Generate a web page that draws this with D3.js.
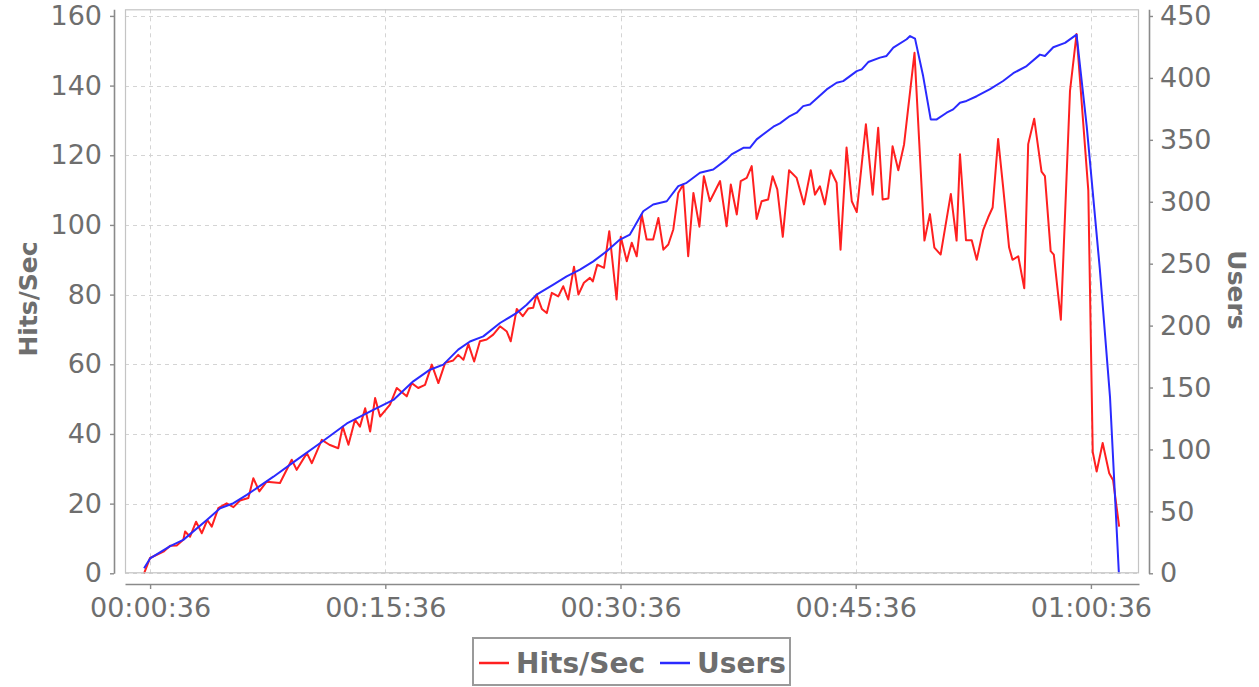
<!DOCTYPE html>
<html>
<head>
<meta charset="utf-8">
<script src="https://cdn.jsdelivr.net/npm/d3@7/dist/d3.min.js"></script>
<style>
  html, body { margin: 0; padding: 0; background: #fff; }
  svg { display: block; }
  text { font-family: "DejaVu Sans", sans-serif; }
</style>
</head>
<body>
<svg id="chart" width="1259" height="687"></svg>
<script>
// ---- data (elapsed seconds from test start) ----
const hitsTime = [13,36,87,113,138,163,170,189,212,234,255,272,297,329,355,380,412,431,454,482,533,578,597,636,655,693,722,756,773,795,820,839,859,878,897,916,954,980,1018,1037,1062,1088,1114,1139,1165,1196,1215,1235,1254,1276,1298,1324,1349,1375,1401,1416,1439,1462,1483,1502,1515,1535,1554,1573,1598,1617,1636,1658,1675,1696,1719,1730,1747,1773,1793,1821,1837,1860,1879,1898,1917,1936,1961,1981,2000,2019,2038,2057,2076,2095,2115,2138,2155,2178,2217,2242,2258,2281,2296,2319,2338,2357,2376,2401,2418,2436,2457,2481,2510,2538,2564,2580,2599,2618,2640,2663,2678,2701,2721,2740,2775,2801,2822,2839,2861,2877,2899,2921,2961,2999,3020,3037,3061,3100,3122,3135,3158,3180,3199,3224,3243,3260,3281,3300,3323,3336,3358,3381,3396,3419,3447,3460,3482,3494,3521,3556,3581,3626,3643,3658,3681,3706,3721,3744];
const hitsPerSec = [0,4.4,6.2,7.9,8,9.6,12,10.5,14.8,11.5,15.3,13.4,18.7,20.1,19,20.9,21.6,27.3,23.5,26.3,25.9,32.6,29.7,34.5,31.6,38.3,36.9,35.9,42.1,36.9,44.1,42.1,47.4,40.7,50.3,45,48.4,53.2,50.8,54.6,53.2,54.1,59.9,54.6,60.4,61.1,62.7,61.3,65.8,60.8,66.6,67.1,68.5,70.9,69.4,66.6,75.9,73.8,76,76.2,80,75.9,74.7,80.5,79.5,82.4,78.6,88,80,83.4,84.8,83.8,88.6,87.7,98.2,78.6,96.6,89.6,94.9,91,103,95.8,95.8,102,92.9,94.4,98.7,109.2,111.6,91,109.2,99.5,114,106.8,112.6,99.6,111.6,103,112.6,113.5,116.9,101.7,106.8,107.3,114,110.2,96.6,115.7,113.5,105.9,115.7,108.7,111.1,105.9,115.7,112.1,92.9,122.2,106.8,103.7,128.9,108.7,127.9,107.3,107.6,122.6,115.7,123.1,149.4,95.5,103.1,93.5,91.5,108.9,95.5,120.3,95.6,95.6,90,98.6,102.2,105,124.7,110.9,93.5,90,91,81.8,123.2,130.5,115.3,114,92.5,91.5,72.8,138.5,154.8,109.9,34.8,29.2,37.4,28.7,26.7,13.4];

const usersTime = [13,36,113,163,253,304,355,406,508,597,686,789,890,967,1043,1107,1158,1215,1260,1311,1375,1439,1477,1515,1579,1630,1681,1732,1783,1834,1872,1923,1961,2013,2057,2089,2140,2191,2242,2261,2306,2331,2357,2421,2446,2484,2510,2535,2561,2625,2663,2688,2740,2759,2784,2829,2854,2880,2931,2944,2963,2994,3023,3046,3084,3109,3135,3160,3199,3250,3300,3339,3390,3441,3460,3492,3537,3581,3620,3670,3709,3743];
const users = [4,12,22,27,43,52.5,56.6,63.3,78,91.6,105,121,132,140,155,164.4,168.5,180.6,187.2,191.3,202.1,210.2,216.9,225,233.1,239.8,245.2,251.9,260,269.5,273.5,292.3,297.8,300.4,312.6,315.3,323.4,326,334.2,338.3,343.6,343.6,350.4,360.6,363.3,369.2,371.9,377.2,378.6,390.7,396.1,397.4,405.5,406.9,412.8,416.4,417.7,424.4,431.2,433.8,431.7,401.5,366.5,366.5,371.9,374.6,380,381.4,385.2,390.9,397.5,403.8,409.6,418.8,417.7,424.8,428.3,434.9,360.8,245.9,142.5,0];

const xTickValues = [36, 936, 1836, 2736, 3636];          // 00:00:36 ... 01:00:36
const hitsTicks = [0,20,40,60,80,100,120,140,160];
const usersTicks = [0,50,100,150,200,250,300,350,400,450];
const seriesNames = ["Hits/Sec", "Users"];
const seriesColors = ["#ff2020", "#2a2aff"];

// ---- layout ----
const P = { left: 125, right: 1139, top: 9.3, bottom: 573.3 };
const svg = d3.select("#chart");

const x = d3.scaleLinear().domain([-60, 3820]).range([P.left, P.right]);
const yL = d3.scaleLinear().domain([0, 161.9]).range([P.bottom, P.top]);
const yR = d3.scaleLinear().domain([0, 455.4]).range([P.bottom, P.top]);

const fmt = s => {
  const h = Math.floor(s / 3600), m = Math.floor((s % 3600) / 60), sec = s % 60;
  const p = v => String(v).padStart(2, "0");
  return p(h) + ":" + p(m) + ":" + p(sec);
};

// plot background + grid
svg.append("rect").attr("x", P.left).attr("y", P.top)
  .attr("width", P.right - P.left).attr("height", P.bottom - P.top)
  .attr("fill", "#fff");

const grid = svg.append("g").attr("stroke", "#d4d4d4").attr("stroke-width", 1)
  .attr("stroke-dasharray", "4,4");
grid.selectAll("line.h").data(hitsTicks).join("line").attr("class", "h")
  .attr("x1", P.left).attr("x2", P.right)
  .attr("y1", d => Math.round(yL(d)) + 0.5).attr("y2", d => Math.round(yL(d)) + 0.5);
grid.selectAll("line.v").data(xTickValues).join("line").attr("class", "v")
  .attr("y1", P.top).attr("y2", P.bottom)
  .attr("x1", d => Math.round(x(d)) + 0.5).attr("x2", d => Math.round(x(d)) + 0.5);

// series lines
const hitsData = hitsTime.map((t, i) => [t, hitsPerSec[i]]);
const usersData = usersTime.map((t, i) => [t, users[i]]);

svg.append("path").datum(hitsData)
  .attr("fill", "none").attr("stroke", seriesColors[0]).attr("stroke-width", 2)
  .attr("stroke-linejoin", "round")
  .attr("d", d3.line().x(d => x(d[0])).y(d => yL(d[1])));

svg.append("path").datum(usersData)
  .attr("fill", "none").attr("stroke", seriesColors[1]).attr("stroke-width", 2)
  .attr("stroke-linejoin", "round")
  .attr("d", d3.line().x(d => x(d[0])).y(d => yR(d[1])));

// plot border
svg.append("rect").attr("x", P.left + 0.5).attr("y", P.top + 0.5)
  .attr("width", P.right - P.left - 1).attr("height", P.bottom - P.top - 1)
  .attr("fill", "none").attr("stroke", "#c4c4c4").attr("stroke-width", 1.2);

// axes
const axisColor = "#8a8a8a", labelColor = "#6e6e6e";
function styleAxis(g) {
  g.select(".domain").attr("stroke", axisColor).attr("stroke-width", 1.6);
  g.selectAll(".tick line").attr("stroke", axisColor).attr("stroke-width", 1.4);
  g.selectAll(".tick text").attr("fill", labelColor)
    .attr("font-family", "DejaVu Sans, sans-serif").attr("font-size", 27);
}

svg.append("g").attr("transform", "translate(114,0)")
  .call(d3.axisLeft(yL).tickValues(hitsTicks).tickSize(4).tickSizeOuter(0).tickPadding(8))
  .call(styleAxis);

svg.append("g").attr("transform", "translate(1149,0)")
  .call(d3.axisRight(yR).tickValues(usersTicks).tickSize(4).tickSizeOuter(0).tickPadding(7))
  .call(styleAxis);

svg.append("g").attr("transform", "translate(0,584)")
  .call(d3.axisBottom(x).tickValues(xTickValues).tickFormat(fmt).tickSize(5).tickSizeOuter(0).tickPadding(9))
  .call(styleAxis);

// axis titles
svg.append("text").attr("transform", "translate(37,299) rotate(-90)")
  .attr("text-anchor", "middle").attr("font-weight", "bold").attr("font-size", 25)
  .attr("fill", labelColor).text(seriesNames[0]);
svg.append("text").attr("transform", "translate(1228,290) rotate(90)")
  .attr("text-anchor", "middle").attr("font-weight", "bold").attr("font-size", 25)
  .attr("fill", labelColor).text(seriesNames[1]);

// legend
const lg = svg.append("g");
lg.append("rect").attr("x", 473).attr("y", 638).attr("width", 317).attr("height", 47)
  .attr("fill", "#fff").attr("stroke", "#9a9a9a").attr("stroke-width", 2);
const legendItems = [
  { name: seriesNames[0], color: seriesColors[0], x0: 479, tx: 516 },
  { name: seriesNames[1], color: seriesColors[1], x0: 660, tx: 697 }
];
legendItems.forEach(it => {
  lg.append("line").attr("x1", it.x0).attr("x2", it.x0 + 30).attr("y1", 663).attr("y2", 663)
    .attr("stroke", it.color).attr("stroke-width", 2.5);
  lg.append("text").attr("x", it.tx).attr("y", 673).attr("font-size", 28)
    .attr("font-weight", "bold").attr("fill", labelColor).text(it.name);
});
</script>
</body>
</html>
